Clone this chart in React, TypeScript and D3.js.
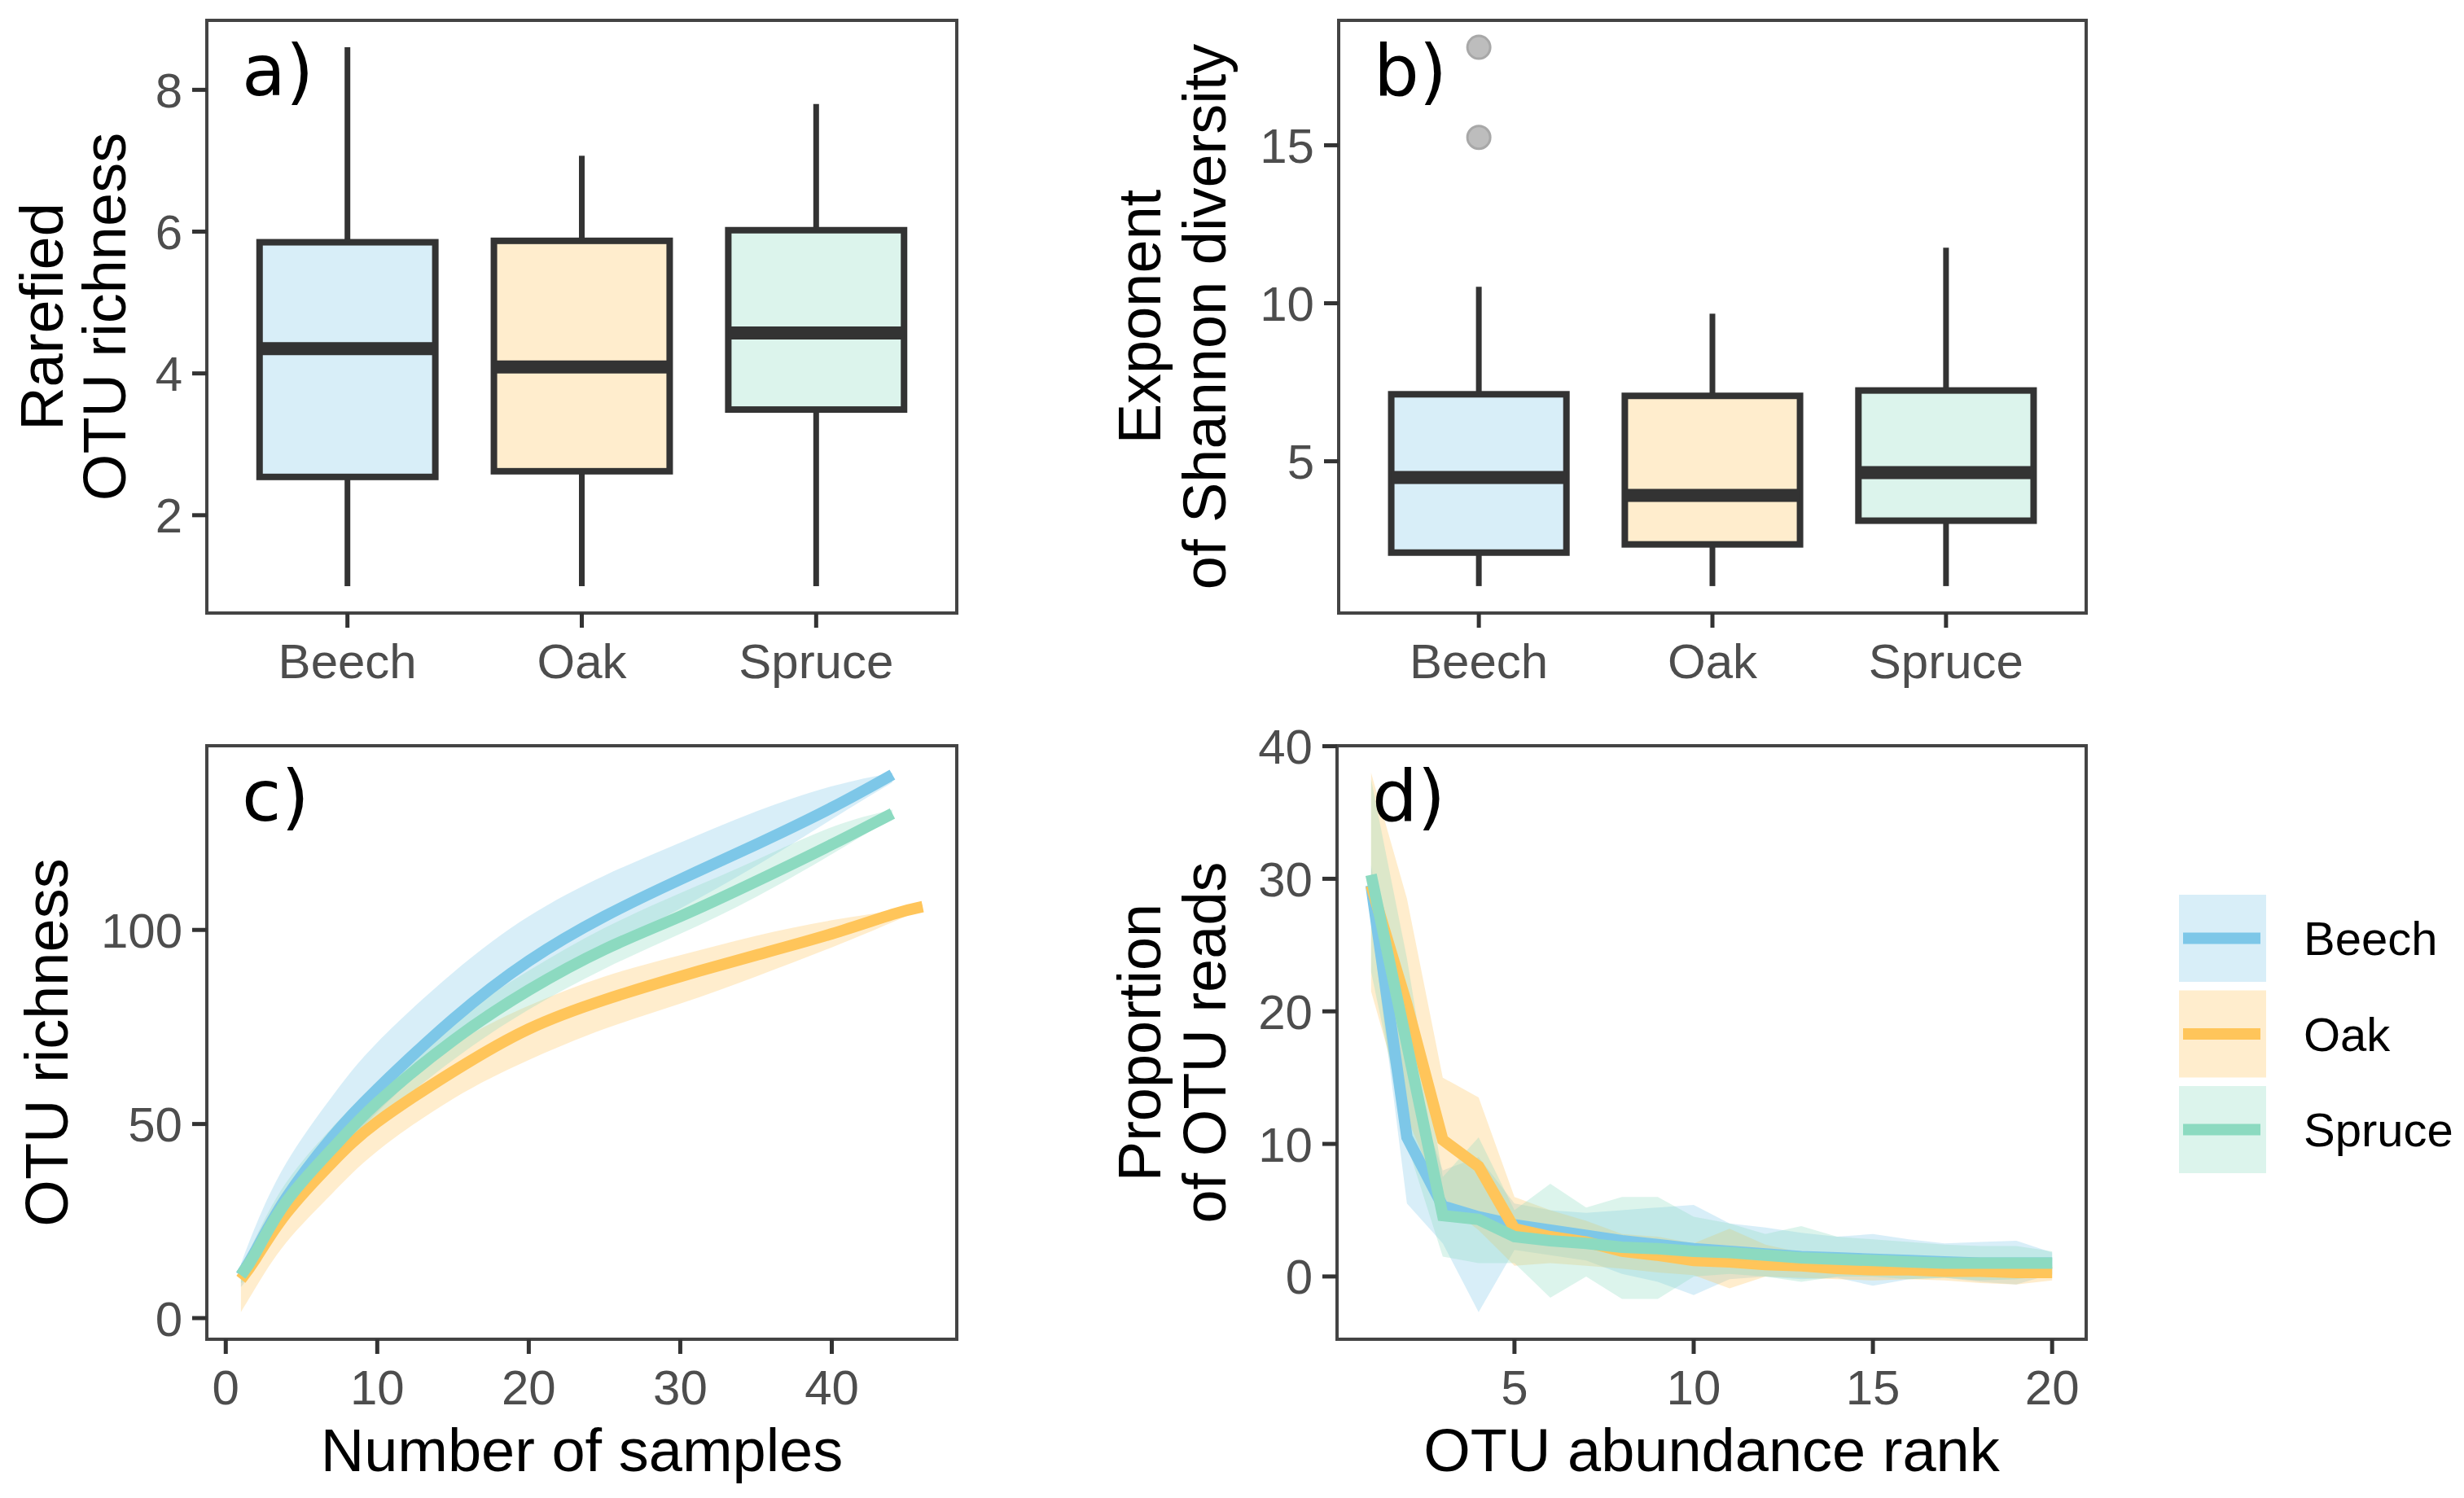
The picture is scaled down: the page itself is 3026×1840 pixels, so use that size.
import * as d3 from "d3";

const treeTypes = ["Beech", "Oak", "Spruce"];
const treeColors = ["#7DC7E8", "#FFC55A", "#8CDAC0"];

// five-number summaries: [min, q1, median, q3, max]
const richnessStats = [
  [1.0, 2.54, 4.35, 5.85, 8.6],
  [1.0, 2.62, 4.09, 5.87, 7.07],
  [1.0, 3.49, 4.57, 6.02, 7.8],
];
const shannonStats = [
  [1.05, 2.11, 4.49, 7.12, 10.52],
  [1.05, 2.37, 3.92, 7.07, 9.67],
  [1.05, 3.12, 4.64, 7.24, 11.76],
];
const shannonOutliers = [[15.25, 18.1], [], []];

// rarefaction curves (panel c)
const sampleSteps = [1, 2, 4, 7, 10, 15, 20, 25, 30, 35, 40, 44];
const oakSampleSteps = [1, 2, 4, 7, 10, 15, 20, 25, 30, 35, 40, 44, 46];
const beechRich = [11, 17.5, 31, 46.5, 59, 77, 92, 103.5, 113, 122, 131.5, 140];
const beechRichHi = [14, 24, 40, 57, 71, 89, 103.5, 114, 122.5, 130.5, 137, 140.5];
const beechRichLo = [8, 13.5, 26, 40, 53, 70.5, 84, 95, 105.5, 116.5, 128.5, 138];
const oakRich = [10, 15.5, 27, 40, 50.5, 63.5, 74.5, 82, 88, 93.5, 99, 104, 106];
const oakRichHi = [13, 20.5, 33.5, 46.5, 57, 70.5, 80.5, 88, 93.5, 98.5, 102.5, 105, 106.5];
const oakRichLo = [1.5, 8, 19.5, 32, 43, 56.5, 66.5, 74.5, 81, 88, 95.5, 102, 105.5];
const spruceRich = [11, 17, 30, 43.5, 55.5, 71.5, 84.5, 95, 103.5, 112.5, 122, 130];
const spruceRichHi = [13, 21, 35, 49, 60.5, 76.5, 89.5, 100.5, 109.5, 118, 126.5, 131];
const spruceRichLo = [9, 13, 25.5, 38, 50.5, 66.5, 79.5, 90, 99, 108.5, 119.5, 129];

// rank abundance (panel d)
const ranks = d3.range(1, 21);
const beechProp = [29.5, 10.5, 5.3, 4.5, 3.9, 3.5, 3.1, 2.7, 2.4, 2.1, 1.9, 1.7, 1.5, 1.4, 1.3, 1.2, 1.1, 1.0, 1.0, 1.0];
const beechPropHi = [31.0, 16.0, 8.0, 9.0, 5.5, 5.0, 4.8, 5.0, 5.2, 5.4, 4.0, 3.7, 3.3, 3.0, 3.2, 2.8, 2.5, 2.6, 2.7, 1.8];
const beechPropLo = [27.0, 5.5, 2.5, -2.7, 2.0, 1.6, 1.2, 0.2, -0.4, -1.4, -0.2, 0.0, -0.2, -0.1, -0.7, -0.2, -0.1, -0.4, -0.6, 0.2];
const oakProp = [29.5, 20.5, 10.3, 8.3, 3.6, 3.0, 2.6, 1.9, 1.6, 1.2, 1.1, 0.9, 0.8, 0.6, 0.5, 0.5, 0.4, 0.4, 0.3, 0.3];
const oakPropHi = [38.0, 28.5, 15.0, 13.5, 6.0, 5.0, 4.2, 3.2, 3.0, 2.5, 3.6, 2.4, 1.8, 1.6, 1.4, 1.3, 1.2, 1.4, 1.3, 0.9];
const oakPropLo = [21.5, 12.0, 5.6, 3.5, 0.8, 1.0, 0.8, 0.6, 0.3, 0.1, -0.9, 0.0, -0.1, -0.2, -0.3, -0.2, -0.3, -0.5, -0.6, -0.3];
const sprucePropHi = [37.5, 24.0, 7.5, 10.5, 5.0, 7.0, 5.2, 6.0, 6.0, 4.5, 4.0, 3.2, 3.8, 3.0, 2.8, 2.6, 2.4, 2.3, 2.3, 1.9];
const spruceProp = [30.3, 17.5, 4.6, 4.3, 3.0, 2.7, 2.5, 2.2, 2.1, 1.9, 1.8, 1.6, 1.4, 1.3, 1.2, 1.1, 1.0, 1.0, 1.0, 1.0];
const sprucePropLo = [23.0, 10.0, 1.5, 1.0, 1.0, -1.6, 0.0, -1.7, -1.7, 0.0, 0.2, 0.0, -0.4, 0.0, 0.0, -0.2, -0.1, -0.3, -0.2, 0.1];

const SANS = "'Liberation Sans', Arial, sans-serif";
const LABEL_FONT = "'DejaVu Sans', sans-serif";
const TICK_SIZE = 60;
const TITLE_SIZE = 74;
const TICK_LEN = 18;
const BORDER = "#444444";
const DARK = "#333333";
const GREY = "#4D4D4D";

type Box = { left: number; right: number; top: number; bottom: number };

const expand = (lo: number, hi: number) => {
  const pad = (hi - lo) * 0.05;
  return [lo - pad, hi + pad];
};

const YAxis = ({ box, y, ticks }: { box: Box; y: d3.ScaleLinear<number, number>; ticks: number[] }) => (
  <g>
    {ticks.map((t) => (
      <g key={t}>
        <line x1={box.left - TICK_LEN} x2={box.left} y1={y(t)} y2={y(t)} stroke={DARK} strokeWidth={5} />
        <text
          x={box.left - TICK_LEN - 12}
          y={y(t)}
          dy="0.36em"
          textAnchor="end"
          fontFamily={SANS}
          fontSize={TICK_SIZE}
          fill={GREY}
        >
          {t}
        </text>
      </g>
    ))}
  </g>
);

const XTicks = ({ box, items }: { box: Box; items: { pos: number; label: string }[] }) => (
  <g>
    {items.map((d) => (
      <g key={d.label}>
        <line x1={d.pos} x2={d.pos} y1={box.bottom} y2={box.bottom + TICK_LEN} stroke={DARK} strokeWidth={5} />
        <text x={d.pos} y={box.bottom + 80} textAnchor="middle" fontFamily={SANS} fontSize={TICK_SIZE} fill={GREY}>
          {d.label}
        </text>
      </g>
    ))}
  </g>
);

const YTitle = ({ lines, xs, cy }: { lines: string[]; xs: number[]; cy: number }) => (
  <g>
    {lines.map((l, i) => (
      <text
        key={l}
        transform={`translate(${xs[i]},${cy}) rotate(-90)`}
        textAnchor="middle"
        fontFamily={SANS}
        fontSize={TITLE_SIZE}
        fill="#000"
      >
        {l}
      </text>
    ))}
  </g>
);

const PanelLabel = ({ box, text }: { box: Box; text: string }) => (
  <text x={box.left + 43} y={box.top + 92} fontFamily={LABEL_FONT} fontSize={88} fill="#000">
    {text}
  </text>
);

const BoxPanel = ({
  box,
  stats,
  outliers,
  ticks,
  label,
  titleLines,
  titleXs,
}: {
  box: Box;
  stats: number[][];
  outliers: number[][];
  ticks: number[];
  label: string;
  titleLines: string[];
  titleXs: number[];
}) => {
  const allVals = stats.flat().concat(outliers.flat());
  const [lo, hi] = expand(d3.min(allVals)!, d3.max(allVals)!);
  const y = d3.scaleLinear().domain([lo, hi]).range([box.bottom, box.top]);
  const x = d3.scalePoint<string>().domain(treeTypes).range([box.left, box.right]).padding(0.6);
  const half = x.step() * 0.375;
  return (
    <g>
      {stats.map(([mn, q1, med, q3, mx], i) => {
        const cx = x(treeTypes[i])!;
        return (
          <g key={treeTypes[i]}>
            <line x1={cx} x2={cx} y1={y(mx)} y2={y(q3)} stroke={DARK} strokeWidth={7} />
            <line x1={cx} x2={cx} y1={y(q1)} y2={y(mn)} stroke={DARK} strokeWidth={7} />
            <rect x={cx - half} y={y(q3)} width={half * 2} height={y(q1) - y(q3)} fill="#fff" />
            <rect
              x={cx - half}
              y={y(q3)}
              width={half * 2}
              height={y(q1) - y(q3)}
              fill={treeColors[i]}
              fillOpacity={0.3}
              stroke={DARK}
              strokeWidth={8}
            />
            <line x1={cx - half} x2={cx + half} y1={y(med)} y2={y(med)} stroke={DARK} strokeWidth={16} />
            {outliers[i].map((o) => (
              <circle key={o} cx={cx} cy={y(o)} r={14} fill="#BDBDBD" stroke="#A8A8A8" strokeWidth={3} />
            ))}
          </g>
        );
      })}
      <rect x={box.left} y={box.top} width={box.right - box.left} height={box.bottom - box.top} fill="none" stroke={BORDER} strokeWidth={4} />
      <YAxis box={box} y={y} ticks={ticks} />
      <XTicks box={box} items={treeTypes.map((t) => ({ pos: x(t)!, label: t }))} />
      <YTitle lines={titleLines} xs={titleXs} cy={(box.top + box.bottom) / 2} />
      <PanelLabel box={box} text={label} />
    </g>
  );
};

type Series = { xs: number[]; mid: number[]; hi: number[]; lo: number[] };

const CurvePanel = ({
  box,
  series,
  xTicks,
  yTicks,
  smooth,
  label,
  titleLines,
  titleXs,
  xTitle,
}: {
  box: Box;
  series: Series[];
  xTicks: number[];
  yTicks: number[];
  smooth: boolean;
  label: string;
  titleLines: string[];
  titleXs: number[];
  xTitle: string;
}) => {
  const allX = series.flatMap((s) => s.xs);
  const allY = series.flatMap((s) => s.hi.concat(s.lo, s.mid));
  const x = d3.scaleLinear().domain(expand(d3.min(allX)!, d3.max(allX)!)).range([box.left, box.right]);
  const y = d3.scaleLinear().domain(expand(d3.min(allY)!, d3.max(allY)!)).range([box.bottom, box.top]);
  const curve = smooth ? d3.curveNatural : d3.curveLinear;
  const area = d3
    .area<[number, number, number]>()
    .x((d) => x(d[0]))
    .y0((d) => y(d[1]))
    .y1((d) => y(d[2]))
    .curve(curve);
  const line = d3
    .line<[number, number]>()
    .x((d) => x(d[0]))
    .y((d) => y(d[1]))
    .curve(curve);
  return (
    <g>
      <defs>
        <clipPath id={`clip-${label}`}>
          <rect x={box.left} y={box.top} width={box.right - box.left} height={box.bottom - box.top} />
        </clipPath>
      </defs>
      <g clipPath={`url(#clip-${label})`}>
        {series.map((s, i) => (
          <path
            key={`r${i}`}
            d={area(s.xs.map((v, j) => [v, s.lo[j], s.hi[j]] as [number, number, number]))!}
            fill={treeColors[i]}
            fillOpacity={0.3}
          />
        ))}
        {series.map((s, i) => (
          <path
            key={`l${i}`}
            d={line(s.xs.map((v, j) => [v, s.mid[j]] as [number, number]))!}
            fill="none"
            stroke={treeColors[i]}
            strokeWidth={14}
          />
        ))}
      </g>
      <rect x={box.left} y={box.top} width={box.right - box.left} height={box.bottom - box.top} fill="none" stroke={BORDER} strokeWidth={4} />
      <YAxis box={box} y={y} ticks={yTicks} />
      <XTicks box={box} items={xTicks.map((t) => ({ pos: x(t), label: String(t) }))} />
      <YTitle lines={titleLines} xs={titleXs} cy={(box.top + box.bottom) / 2} />
      <text x={(box.left + box.right) / 2} y={box.bottom + 162} textAnchor="middle" fontFamily={SANS} fontSize={TITLE_SIZE} fill="#000">
        {xTitle}
      </text>
      <PanelLabel box={box} text={label} />
    </g>
  );
};

const Legend = ({ x, y }: { x: number; y: number }) => {
  const key = 107;
  const step = 117.5;
  return (
    <g>
      {treeTypes.map((t, i) => (
        <g key={t} transform={`translate(${x},${y + i * step})`}>
          <rect width={key} height={key} fill={treeColors[i]} fillOpacity={0.3} />
          <line x1={5} x2={key - 7} y1={key / 2} y2={key / 2} stroke={treeColors[i]} strokeWidth={14} />
          <text x={key + 46} y={key / 2} dy="0.36em" fontFamily={SANS} fontSize={58} fill="#000">
            {t}
          </text>
        </g>
      ))}
    </g>
  );
};

export default function App() {
  const boxA = { left: 254, right: 1175, top: 25, bottom: 753 };
  const boxB = { left: 1644, right: 2562, top: 25, bottom: 753 };
  const boxC = { left: 254, right: 1175, top: 916, bottom: 1645 };
  const boxD = { left: 1642, right: 2562, top: 916, bottom: 1645 };

  const richSeries: Series[] = [
    { xs: sampleSteps, mid: beechRich, hi: beechRichHi, lo: beechRichLo },
    { xs: oakSampleSteps, mid: oakRich, hi: oakRichHi, lo: oakRichLo },
    { xs: sampleSteps, mid: spruceRich, hi: spruceRichHi, lo: spruceRichLo },
  ];
  const propSeries: Series[] = [
    { xs: ranks, mid: beechProp, hi: beechPropHi, lo: beechPropLo },
    { xs: ranks, mid: oakProp, hi: oakPropHi, lo: oakPropLo },
    { xs: ranks, mid: spruceProp, hi: sprucePropHi, lo: sprucePropLo },
  ];

  return (
    <svg
      width={3026}
      height={1840}
      style={{ position: "absolute", left: 0, top: 0, background: "#fff" }}
    >
      <rect width={3026} height={1840} fill="#fff" />
      <BoxPanel
        box={boxA}
        stats={richnessStats}
        outliers={[[], [], []]}
        ticks={[2, 4, 6, 8]}
        label="a)"
        titleLines={["Rarefied", "OTU richness"]}
        titleXs={[77, 154]}
      />
      <BoxPanel
        box={boxB}
        stats={shannonStats}
        outliers={shannonOutliers}
        ticks={[5, 10, 15]}
        label="b)"
        titleLines={["Exponent", "of Shannon diversity"]}
        titleXs={[1425, 1505]}
      />
      <CurvePanel
        box={boxC}
        series={richSeries}
        xTicks={[0, 10, 20, 30, 40]}
        yTicks={[0, 50, 100]}
        smooth={true}
        label="c)"
        titleLines={["OTU richness"]}
        titleXs={[83]}
        xTitle="Number of samples"
      />
      <CurvePanel
        box={boxD}
        series={propSeries}
        xTicks={[5, 10, 15, 20]}
        yTicks={[0, 10, 20, 30, 40]}
        smooth={false}
        label="d)"
        titleLines={["Proportion", "of OTU reads"]}
        titleXs={[1425, 1505]}
        xTitle="OTU abundance rank"
      />
      <Legend x={2676} y={1099} />
    </svg>
  );
}
